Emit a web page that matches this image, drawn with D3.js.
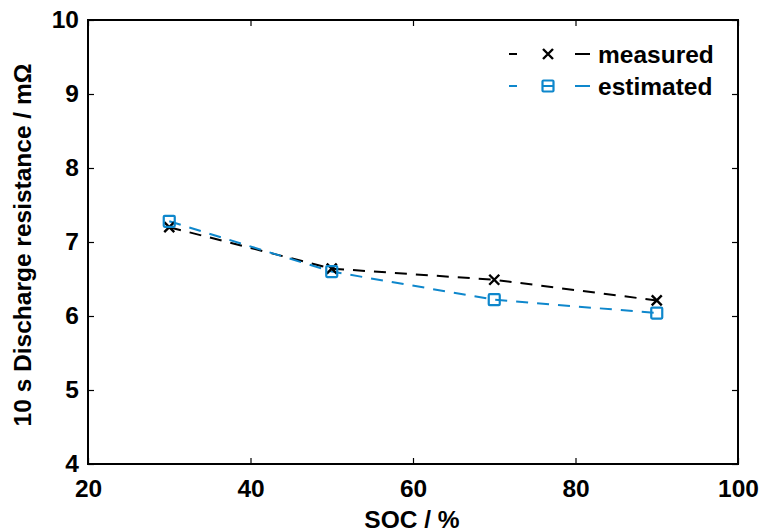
<!DOCTYPE html>
<html><head><meta charset="utf-8">
<script src="https://cdn.jsdelivr.net/npm/d3@7"></script>
<style>
body{margin:0;background:#fff;}
text{font-family:"Liberation Sans",Arial,sans-serif;font-weight:bold;fill:#000;}
</style></head><body>
<svg id="c" width="765" height="532"></svg>
<script>
const soc = [30, 50, 70, 90];
const measured = [7.2, 6.64, 6.49, 6.21];
const estimated = [7.28, 6.6, 6.22, 6.04];
const xTicks = [20, 40, 60, 80, 100];
const yTicks = [4, 5, 6, 7, 8, 9, 10];
const seriesNames = ["measured", "estimated"];
const colors = ["#000000", "#0e87cc"];

const svg = d3.select("#c");
const L = 88, R = 738, T = 20, B = 464;
const FS = 24.5;
const x = d3.scaleLinear().domain([20, 100]).range([L, R]);
const y = d3.scaleLinear().domain([4, 10]).range([B, T]);

const tl = 6;
svg.append("g").attr("transform", `translate(0,${B})`)
  .call(d3.axisBottom(x).tickValues(xTicks).tickSize(-tl).tickPadding(0).tickFormat(d3.format("d")))
  .call(g => { g.select(".domain").remove(); g.selectAll("text").attr("font-size", FS).attr("dy", null).attr("y", 33); });
svg.append("g").attr("transform", `translate(0,${T})`)
  .call(d3.axisTop(x).tickValues(xTicks).tickSize(-tl).tickFormat(""))
  .call(g => g.select(".domain").remove());
svg.append("g").attr("transform", `translate(${L},0)`)
  .call(d3.axisLeft(y).tickValues(yTicks).tickSize(-tl).tickPadding(0).tickFormat(d3.format("d")))
  .call(g => { g.select(".domain").remove(); g.selectAll("text").attr("font-size", FS).attr("x", -9); });
svg.append("g").attr("transform", `translate(${R},0)`)
  .call(d3.axisRight(y).tickValues(yTicks).tickSize(-tl).tickFormat(""))
  .call(g => g.select(".domain").remove());
svg.selectAll(".tick line").attr("stroke", "#000").attr("stroke-width", 1.2);
svg.append("rect").attr("x", L).attr("y", T).attr("width", R - L).attr("height", B - T)
  .attr("fill", "none").attr("stroke", "#000").attr("stroke-width", 2);

svg.append("text").attr("x", 412).attr("y", 528).attr("text-anchor", "middle")
  .attr("font-size", FS).text("SOC / %");
svg.append("text").attr("transform", `translate(31,245) rotate(-90)`)
  .attr("text-anchor", "middle").attr("font-size", FS).text("10 s Discharge resistance / mΩ");

const data = [measured, estimated];
const line = d3.line().x((d, i) => x(soc[i])).y(d => y(d));
data.forEach((vals, k) => {
  svg.append("path").datum(vals).attr("d", line).attr("fill", "none")
    .attr("stroke", colors[k]).attr("stroke-width", 2).attr("stroke-dasharray", "12,9");
});

function xMarker(g, cx, cy, col) {
  const s = 5;
  g.append("path").attr("d", `M${cx - s},${cy - s}L${cx + s},${cy + s}M${cx - s},${cy + s}L${cx + s},${cy - s}`)
    .attr("stroke", col).attr("stroke-width", 2.4).attr("fill", "none");
}
function sqMarker(g, cx, cy, col) {
  const s = 5.5;
  g.append("rect").attr("x", cx - s).attr("y", cy - s).attr("width", 2 * s).attr("height", 2 * s)
    .attr("rx", 1).attr("stroke", col).attr("stroke-width", 2.2).attr("fill", "none");
}
const mg = svg.append("g");
measured.forEach((v, i) => xMarker(mg, x(soc[i]), y(v), colors[0]));
estimated.forEach((v, i) => sqMarker(mg, x(soc[i]), y(v), colors[1]));

const lg = svg.append("g");
[54, 86].forEach((ly, k) => {
  lg.append("line").attr("x1", 509).attr("x2", 517).attr("y1", ly).attr("y2", ly)
    .attr("stroke", colors[k]).attr("stroke-width", 2);
  lg.append("line").attr("x1", 575).attr("x2", 590).attr("y1", ly).attr("y2", ly)
    .attr("stroke", colors[k]).attr("stroke-width", 2);
  if (k === 0) xMarker(lg, 548, ly, colors[0]); else {
    sqMarker(lg, 548, ly, colors[1]);
    lg.append("line").attr("x1", 543).attr("x2", 553).attr("y1", ly).attr("y2", ly).attr("stroke", colors[1]).attr("stroke-width", 2);
  }
  lg.append("text").attr("x", 598).attr("y", ly + 9).attr("font-size", FS).text(seriesNames[k]);
});
</script></body></html>
